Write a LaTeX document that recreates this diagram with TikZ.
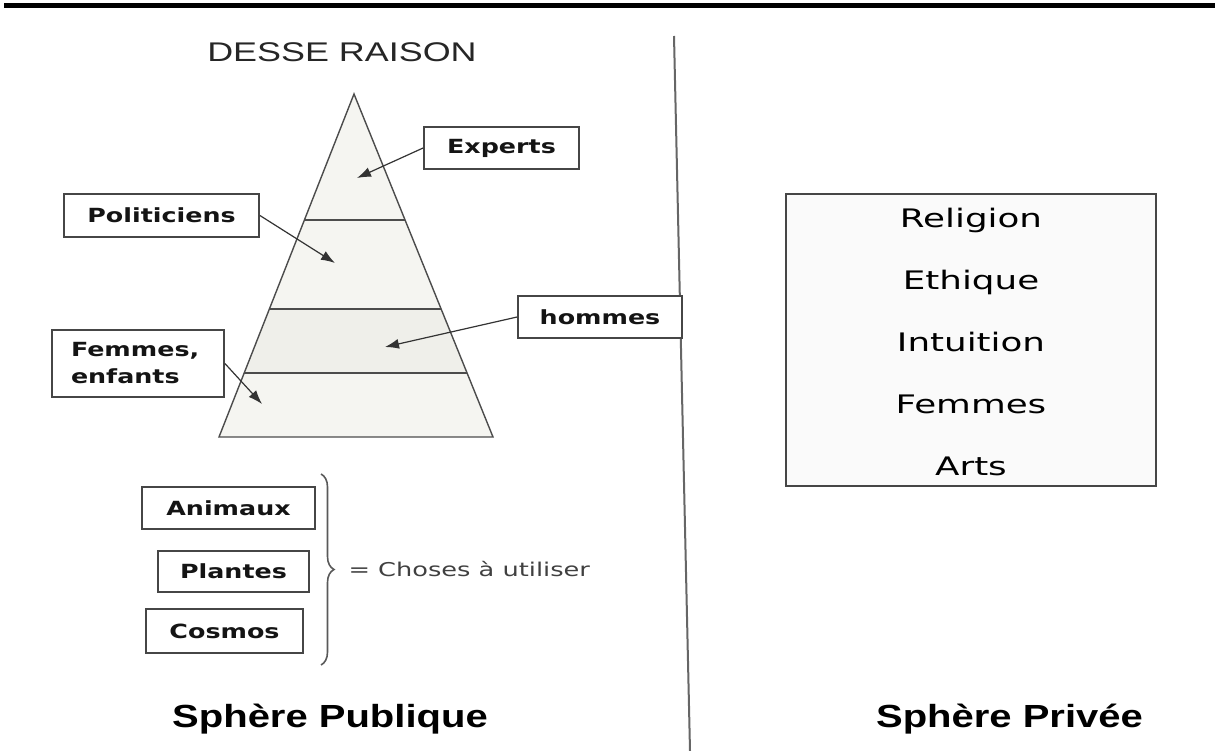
\documentclass[tikz,border=0pt]{standalone}
\usepackage{fontspec}
\usetikzlibrary{arrows.meta,decorations.pathreplacing}
\newfontfamily\labfont[FakeStretch=1.3]{DejaVu Sans}
\newfontfamily\privfont[FakeStretch=1.4]{DejaVu Sans}
\newfontfamily\chosefont[FakeStretch=1.35]{DejaVu Sans}
\newfontfamily\titfont[FakeStretch=1.25]{Liberation Sans}
\newfontfamily\raisonfont[FakeStretch=1.33]{Liberation Sans}
\definecolor{pyrfill}{RGB}{245,245,241}
\definecolor{pyrfillb}{RGB}{239,239,234}
\definecolor{boxline}{RGB}{70,70,70}
\definecolor{txt}{RGB}{20,20,20}
\tikzset{
  lab/.style={draw=boxline, line width=1.8pt, fill=white, text=txt, inner sep=0pt,
    font=\labfont\bfseries\fontsize{19.5}{25}\selectfont},
  pyr/.style={draw=black!70, line width=1.4pt},
  arr/.style={black!80, line width=1.2pt, -{Latex[length=14pt,width=10pt]}},
  priv/.style={anchor=base, text=black, font=\privfont\fontsize{25.5}{30}\selectfont},
  title/.style={anchor=base, text=black, font=\titfont\bfseries\fontsize{32}{37}\selectfont}
}
\begin{document}
\begin{tikzpicture}[x=1pt,y=-1pt]
\useasboundingbox (0,0) rectangle (1215,751);
% top rule
\draw[line width=5pt] (4,6) -- (1215,6);
% divider
\coordinate (dtop) at (674,36);
\coordinate (dbot) at (690,751);
\draw[black!60, line width=2pt] (dtop) -- (dbot);
% title
\node[anchor=base, font=\raisonfont\fontsize{27}{31}\selectfont, text=black!85] (raison) at (342,62) {DESSE RAISON};
% pyramid bands
\fill[pyrfill] (354,94) -- (405.1,220) -- (304.4,220) -- cycle;
\fill[pyrfill] (304.4,220) -- (405.1,220) -- (441.1,309) -- (269.4,309) -- cycle;
\fill[pyrfillb] (269.4,309) -- (441.1,309) -- (467.1,373) -- (244.2,373) -- cycle;
\fill[pyrfill] (244.2,373) -- (467.1,373) -- (493,437) -- (219,437) -- cycle;
\draw[pyr, line join=miter] (354,94) -- (493,437) -- (219,437) -- cycle;
\draw[pyr] (304.4,220) -- (405.1,220);
\draw[pyr] (269.4,309) -- (441.1,309);
\draw[pyr] (244.2,373) -- (467.1,373);
% labels
\node[lab, minimum width=155pt, minimum height=42pt] (experts) at (501.5,148) {Experts};
\node[lab, minimum width=195pt, minimum height=43pt] (polit) at (161.5,215.5) {Politiciens};
\node[lab, minimum width=164pt, minimum height=42pt] (hommes) at (600,317) {hommes};
\node[lab, minimum width=172pt, minimum height=67pt, align=left, text width=134pt, inner xsep=19pt] (femmes) at (138,363.5) {Femmes,\\[2pt]enfants};
% arrow targets
\coordinate (texp) at (357,178);
\coordinate (tpol) at (335,263);
\coordinate (thom) at (385,347);
\coordinate (tfem) at (262,404);
\draw[arr] (experts.west) -- (texp);
\draw[arr] (polit.east) -- (tpol);
\draw[arr] (hommes.west) -- (thom);
\draw[arr] (femmes.east) -- (tfem);
% things
\node[lab, minimum width=173pt, minimum height=42pt] (anim) at (228.5,508) {Animaux};
\node[lab, minimum width=151pt, minimum height=41pt] (plant) at (233.5,571.5) {Plantes};
\node[lab, minimum width=157pt, minimum height=44pt] (cosmos) at (224.5,631) {Cosmos};
\coordinate (btop) at (321,474);
\coordinate (bbot) at (321,665);
\draw[black!65, line width=1.6pt, decorate, decoration={brace, amplitude=13pt}] (btop) -- (bbot);
\node[anchor=west, text=black!75, font=\chosefont\fontsize{19}{23}\selectfont] (choses) at (345,569) {= Choses à utiliser};
% private box
\node[draw=boxline, line width=1.8pt, fill=black!2, minimum width=370pt, minimum height=292pt, inner sep=0pt] (privbox) at (971,340) {};
\node[priv] (rel) at (971,228) {Religion};
\node[priv] (eth) at (971,290) {Ethique};
\node[priv] (int) at (971,351) {Intuition};
\node[priv] (fem) at (971,413) {Femmes};
\node[priv] (arts) at (971,475) {Arts};
% footers
\node[title] (pub) at (330,727) {Sphère Publique};
\node[title] (pri) at (1009.5,727) {Sphère Privée};
\end{tikzpicture}
\end{document}
